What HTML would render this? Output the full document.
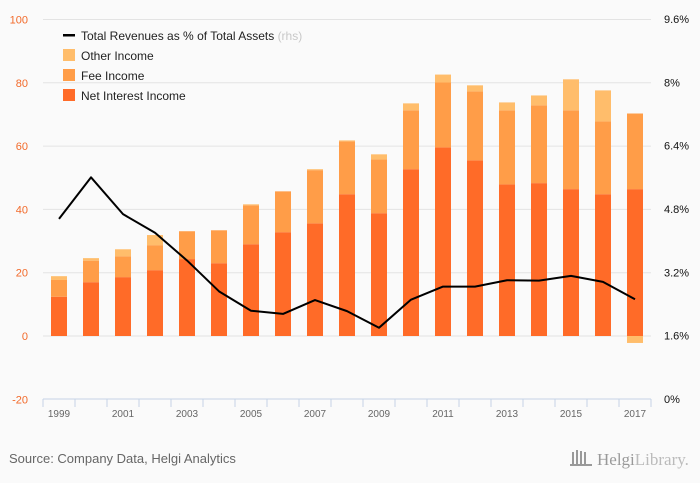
<!DOCTYPE html>
<html><head><meta charset="utf-8"><style>
html,body{margin:0;padding:0;background:#fafafa;}
svg{display:block;font-family:"Liberation Sans","DejaVu Sans",sans-serif;}
</style></head><body>
<svg id="chart" width="700" height="483" viewBox="0 0 700 483">
<rect width="700" height="483" fill="#fafafa"/>
<g id="grid"></g>
<g id="bars"></g>
<g id="line"></g>
<g id="axes"></g>
<g>
 <g>
  <rect x="63" y="34" width="12" height="2.5" fill="#000"/>
  <text x="81" y="40" font-size="12" fill="#222">Total Revenues as % of Total Assets <tspan fill="#c8c8c8">(rhs)</tspan></text>
 </g>
 <g>
  <rect x="63" y="49" width="12" height="12" fill="#ffbd6b"/>
  <text x="81" y="60" font-size="12" fill="#222">Other Income</text>
 </g>
 <g>
  <rect x="63" y="69" width="12" height="12" fill="#ff9d48"/>
  <text x="81" y="80" font-size="12" fill="#222">Fee Income</text>
 </g>
 <g>
  <rect x="63" y="89" width="12" height="12" fill="#ff6b28"/>
  <text x="81" y="100" font-size="12" fill="#222">Net Interest Income</text>
 </g>
</g>
<text x="9" y="463" font-size="13" fill="#666">Source: Company Data, Helgi Analytics</text>
<g>
 <g fill="#999"><rect x="572" y="452" width="2" height="12"/><rect x="576" y="450" width="2" height="14"/><rect x="580" y="451" width="2" height="13"/><rect x="584" y="452" width="2" height="12"/><rect x="570" y="464" width="22" height="2"/></g>
 <text x="597" y="465" font-size="17" fill="#999" font-family="Liberation Serif, serif">Helgi<tspan fill="#bbb">Library.</tspan></text>
</g>
</svg>
<script>
const years=[1999,2000,2001,2002,2003,2004,2005,2006,2007,2008,2009,2010,2011,2012,2013,2014,2015,2016,2017];
const netInterest=[12.4,17.0,18.6,20.8,24.3,23.0,29.0,32.8,35.6,44.8,38.8,52.7,59.6,55.5,47.9,48.3,46.4,44.8,46.4];
const feeIncome=[5.3,6.8,6.6,7.9,8.8,10.4,12.3,12.9,16.8,16.7,17.0,18.6,20.5,21.8,23.4,24.6,24.9,23.0,23.9];
const otherIncome=[1.2,0.8,2.2,3.2,0,0,0.3,0,0.3,0.3,1.6,2.2,2.5,1.9,2.5,3.1,9.8,9.8,-2.2];
const revRatio=[4.55,5.6,4.67,4.2,3.5,2.72,2.23,2.15,2.5,2.22,1.8,2.51,2.84,2.84,3.0,2.99,3.11,2.96,2.52];
const leftTicks=[-20,0,20,40,60,80,100];
const rightTicks=[0,1.6,3.2,4.8,6.4,8,9.6];
const NS='http://www.w3.org/2000/svg';
const X0=43,BAND=32,Y0=336,PXU=3.165;
const yL=v=>Y0-v*PXU;
const yR=v=>399-v*(380/9.6);
const xC=i=>X0+BAND*i+BAND/2;
function mk(tag,attrs,parent){const e=document.createElementNS(NS,tag);for(const k in attrs)e.setAttribute(k,attrs[k]);parent.appendChild(e);return e;}
const grid=document.getElementById('grid'),bars=document.getElementById('bars'),axes=document.getElementById('axes'),line=document.getElementById('line');
leftTicks.forEach((t,i)=>{
 if(t>-20){const g=mk('line',{x1:43,x2:651,y1:yL(t),y2:yL(t),stroke:'#e3e3e3','stroke-width':1},grid);
 
 }
 const lt=mk('text',{x:28,y:yL(t)+4,'text-anchor':'end','font-size':11,fill:'#f26a2a'},axes);lt.textContent=t;
 
 
});
rightTicks.forEach(t=>{
 const rt=mk('text',{x:664,y:yR(t)+4,'font-size':11,fill:'#111'},axes);rt.textContent=(t===0?'0':String(t))+'%';
 
 
});
const ax=mk('line',{x1:43,x2:651,y1:399,y2:399,stroke:'#c5d3e6','stroke-width':1},axes);


for(let i=0;i<=years.length;i++){const tk=mk('line',{x1:X0+BAND*i,x2:X0+BAND*i,y1:399,y2:407,stroke:'#c5d3e6','stroke-width':1},axes);
 
 }
years.forEach((y,i)=>{
 if(i%2===0){const t=mk('text',{x:xC(i),y:417,'text-anchor':'middle','font-size':10,fill:'#666'},axes);t.textContent=y;
 
 }
 const bx=xC(i)-8,w=16;
 const n=netInterest[i],f=feeIncome[i],o=otherIncome[i];
 const r1=mk('rect',{x:bx,y:yL(n),width:w,height:n*PXU,fill:'#ff6b28'},bars);
 
 
 const r2=mk('rect',{x:bx,y:yL(n+f),width:w,height:f*PXU,fill:'#ff9d48'},bars);
 
 
 const oy=o>=0?yL(n+f+o):yL(0),oh=Math.abs(o)*PXU;
 const r3=mk('rect',{x:bx,y:oy,width:w,height:oh,fill:'#ffbd6b'},bars);
 
 
});
const pts=revRatio.map((v,i)=>xC(i)+','+yR(v)).join(' ');
const pl=mk('polyline',{points:pts,fill:'none',stroke:'#000','stroke-width':2,'stroke-linejoin':'round'},line);


</script>
</body></html>
